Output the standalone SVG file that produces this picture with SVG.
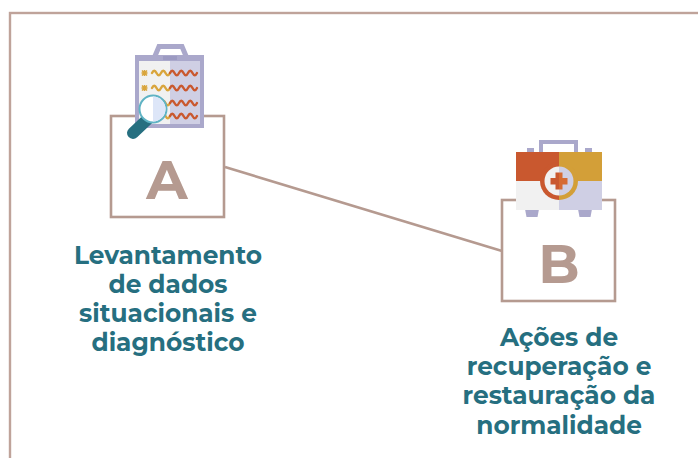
<svg xmlns="http://www.w3.org/2000/svg" width="698" height="458" viewBox="0 0 698 458">
<style>
.box{fill:none;stroke:#b59a90;stroke-width:2.6}
.letter{font-family:"Montserrat","Open Sans","Liberation Sans",sans-serif;font-weight:700;font-size:54px;fill:#b59a90;text-anchor:middle}
.label{font-family:"Montserrat","Open Sans","Liberation Sans",sans-serif;font-weight:700;font-size:24.800px;fill:#266f80;text-anchor:middle}
.w{fill:none;stroke-width:2.400;stroke-linecap:round}
.ast{fill:none;stroke:#d9a53c;stroke-width:1.500}
</style>
<defs>
<path id="wave" d="M0 0q2.200-4.500 4.500 0t4.500 0t4.500 0t4.500 0" class="w"/>
<path id="wave2" d="M0 0q2.200-4.500 4.500 0t4.500 0t4.500 0t4.500 0t4.500 0t4.500 0" class="w"/>
<path id="ast" d="M-2.500-2.500L2.500 2.500M-2.500 2.500L2.500-2.500M-3 0H3M0-3V3" class="ast"/>
</defs>
<rect x="10" y="13" width="700" height="460" fill="none" stroke="#bfa39a" stroke-width="2.400"/>
<g id="connectors"><line x1="225" y1="167" x2="502" y2="251" stroke="#b59a90" stroke-width="2.600"/></g>
<g id="node-a">
<rect class="box" x="111" y="116" width="113" height="101"/>
<path d="M155 56L159 46.500H182L186 56" fill="none" stroke="#aaa8cb" stroke-width="5"/>
<rect x="135" y="55" width="69" height="73" fill="#aaa8cb"/>
<rect x="139" y="61" width="31" height="63" fill="#f1f1f1"/>
<rect x="170" y="61" width="30" height="63" fill="#cfcfe4"/>
<rect x="163" y="56" width="14" height="4" fill="#9c9ac2"/>
<use href="#ast" x="144.500" y="73"/><use href="#ast" x="144.500" y="88"/>
<g stroke="#d9a53c"><use href="#wave" x="152" y="73"/><use href="#wave" x="152" y="88"/><use href="#wave" x="152" y="103"/><use href="#wave" x="152" y="116"/></g>
<g stroke="#c9582f"><use href="#wave2" x="170" y="73"/><use href="#wave2" x="170" y="88"/><use href="#wave2" x="170" y="103"/><use href="#wave2" x="170" y="116"/></g>
<line x1="133" y1="133" x2="151" y2="116" stroke="#266f80" stroke-width="12" stroke-linecap="round"/>
<circle cx="153" cy="109" r="13.500" fill="#fff" stroke="#5fb3c4" stroke-width="2"/>
<path d="M153 96.500a12.500 12.500 0 0 1 0 25z" fill="#dde6f8"/>
<text class="letter" x="167" y="199">A</text>
<text class="label" x="168" y="264">Levantamento</text><text class="label" x="168" y="293">de dados</text><text class="label" x="168" y="322">situacionais e</text><text class="label" x="168" y="351">diagnóstico</text>
</g>
<g id="node-b">
<rect class="box" x="502" y="200" width="113" height="101"/>
<path d="M541 152V142H576V152" fill="none" stroke="#aaa8cb" stroke-width="4"/>
<rect x="527" y="148" width="7" height="4" fill="#aaa8cb"/><rect x="585" y="148" width="7" height="4" fill="#aaa8cb"/>
<path d="M525 209h14l-1.500 8h-11zM578 209h14l-1.500 8h-11z" fill="#aaa8cb"/>
<rect x="516" y="152" width="43" height="29" fill="#c9582f"/>
<rect x="559" y="152" width="43" height="29" fill="#d39f38"/>
<rect x="516" y="181" width="43" height="29" fill="#f1f1f1"/>
<rect x="559" y="181" width="43" height="29" fill="#cfcfe4"/>
<path d="M559 162a19 19 0 0 0 0 38z" fill="#c9582f"/>
<path d="M559 200a19 19 0 0 0 0-38z" fill="#d39f38"/>
<path d="M559 166.500a14.500 14.500 0 0 0 0 29z" fill="#f1f1f1"/>
<path d="M559 166.500a14.500 14.500 0 0 1 0 29z" fill="#cfcfe4"/>
<path d="M550.500 178h8.500v6.500h-8.500zM555.500 172.500h3.500v17h-3.500z" fill="#c9582f"/>
<path d="M559 178h8.500v6.500h-8.500zM559 172.500h3.500v17h-3.500z" fill="#d66a32"/>
<text class="letter" x="559" y="283">B</text>
<text class="label" x="559" y="346">Ações de</text><text class="label" x="559" y="375">recuperação e</text><text class="label" x="559" y="404">restauração da</text><text class="label" x="559" y="434">normalidade</text>
</g>
</svg>
